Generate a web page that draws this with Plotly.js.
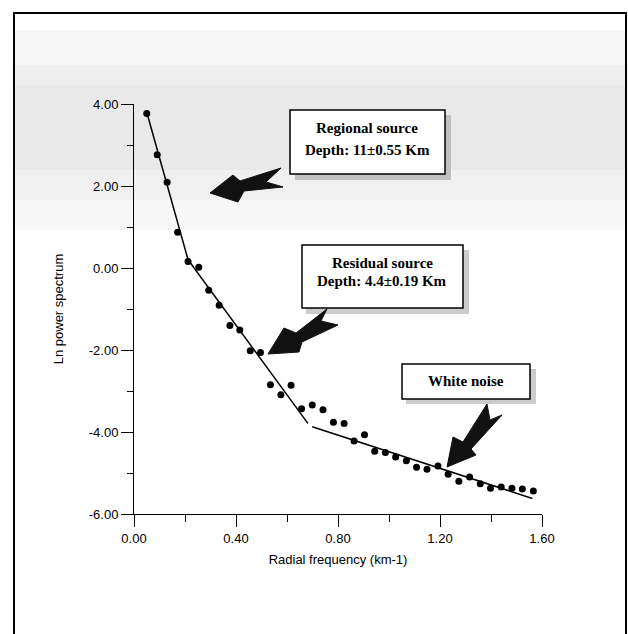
<!DOCTYPE html>
<html>
<head>
<meta charset="utf-8">
<script src="https://cdn.plot.ly/plotly-3.0.1.min.js"></script>
<style>html,body{margin:0;padding:0;background:#fff;}#chart{width:628px;height:634px;}</style>
</head>
<body>
<div id="chart"></div>
<script>
// Observed spectrum points
const freq = [0.050,0.091,0.130,0.171,0.212,0.254,0.293,0.334,0.376,0.415,0.456,0.496,0.535,0.576,0.616,0.657,0.699,0.741,0.782,0.824,0.863,0.904,0.944,0.986,1.026,1.068,1.108,1.149,1.192,1.232,1.274,1.316,1.358,1.398,1.440,1.482,1.523,1.566];
const lnPower = [3.77,2.76,2.09,0.87,0.16,0.02,-0.54,-0.91,-1.40,-1.51,-2.02,-2.06,-2.85,-3.09,-2.86,-3.43,-3.34,-3.46,-3.76,-3.79,-4.22,-4.07,-4.47,-4.50,-4.61,-4.70,-4.86,-4.91,-4.83,-5.03,-5.20,-5.10,-5.26,-5.37,-5.34,-5.37,-5.39,-5.44];
// Fitted line segments
const regionalX = [0.050, 0.212];
const regionalY = [3.80, 0.20];
const residualX = [0.212, 0.682];
const residualY = [0.20, -3.79];
const noiseX = [0.699, 1.562];
const noiseY = [-3.87, -5.62];
// Tick labels
const xTicks = [0, 0.4, 0.8, 1.2, 1.6];
const xTickText = ["0.00","0.40","0.80","1.20","1.60"];
const yTicks = [-6, -4, -2, 0, 2, 4];
const yTickText = ["-6.00","-4.00","-2.00","0.00","2.00","4.00"];

// pixel -> paper helpers (plot area: x 134..542, y 104..514)
const L = 134, R = 542, T = 104, B = 514;
const px = v => (v - L) / (R - L);
const py = v => (B - v) / (B - T);
function poly(pts){
  return pts.map((p,i)=> (i?'L':'M') + px(p[0]).toFixed(4) + ',' + py(p[1]).toFixed(4)).join(' ') + ' Z';
}
function rect(x0,y0,x1,y1,fill,line){
  return {type:'rect', xref:'paper', yref:'paper', x0:px(x0), x1:px(x1), y0:py(y0), y1:py(y1),
    fillcolor:fill, line:line||{width:0}, layer:'below'};
}

const lineStyle = {color:'#000', width:1.5};
const traces = [
  {x:regionalX, y:regionalY, mode:'lines', line:lineStyle, hoverinfo:'skip', showlegend:false},
  {x:residualX, y:residualY, mode:'lines', line:lineStyle, hoverinfo:'skip', showlegend:false},
  {x:noiseX, y:noiseY, mode:'lines', line:lineStyle, hoverinfo:'skip', showlegend:false},
  {x:freq, y:lnPower, mode:'markers', marker:{color:'#000', size:7}, showlegend:false}
];

const shapes = [
  // scanned gray halftone band
  rect(14, 30, 626, 65, '#f6f6f6'),
  rect(14, 65, 626, 85, '#efefef'),
  rect(14, 85, 626, 170, '#e9e9e9'),
  rect(14, 170, 626, 200, '#f0f0f0'),
  rect(14, 200, 626, 230, '#f7f7f7'),
  // frame
  {type:'rect', xref:'paper', yref:'paper', x0:px(14), x1:px(626), y0:py(13), y1:py(660),
   line:{color:'#000', width:2}, fillcolor:'rgba(0,0,0,0)', layer:'above'},
  // box shadows
  rect(295, 115, 451, 180, '#c0c0c0'),
  rect(306, 250, 469, 314, '#cccccc'),
  rect(406, 369, 536, 404, '#cccccc'),
  // boxes
  {type:'rect', xref:'paper', yref:'paper', x0:px(290), x1:px(445), y0:py(110), y1:py(174), fillcolor:'#fff', line:{color:'#000', width:1.5}, layer:'above'},
  {type:'rect', xref:'paper', yref:'paper', x0:px(302), x1:px(463), y0:py(245), y1:py(308), fillcolor:'#fff', line:{color:'#000', width:1.5}, layer:'above'},
  {type:'rect', xref:'paper', yref:'paper', x0:px(402), x1:px(530), y0:py(364), y1:py(399), fillcolor:'#fff', line:{color:'#000', width:1.5}, layer:'above'},
  // arrows
  {type:'path', xref:'paper', yref:'paper', layer:'above', fillcolor:'#111', line:{color:'#111', width:1},
   path: poly([[210,193],[233,175],[240,181],[281,168],[266,182],[283,187],[244,191],[238,202]])},
  {type:'path', xref:'paper', yref:'paper', layer:'above', fillcolor:'#111', line:{color:'#111', width:1},
   path: poly([[268,354],[284,328],[296,333],[327,309],[321,321],[338,325],[302,342],[299,352]])},
  {type:'path', xref:'paper', yref:'paper', layer:'above', fillcolor:'#111', line:{color:'#111', width:1},
   path: poly([[447,467],[453,437],[463,442],[487,404],[490,420],[502,415],[471,449],[476,455]])}
];

const serif = {family:'"Liberation Serif", "DejaVu Serif", serif', size:15, color:'#000'};
const annotations = [
  {xref:'paper', yref:'paper', x:px(367), y:py(128), text:'<b>Regional source</b>', showarrow:false, font:serif, xanchor:'center', yanchor:'middle'},
  {xref:'paper', yref:'paper', x:px(367), y:py(150), text:'<b>Depth: 11±0.55 Km</b>', showarrow:false, font:serif, xanchor:'center', yanchor:'middle'},
  {xref:'paper', yref:'paper', x:px(382), y:py(263), text:'<b>Residual source</b>', showarrow:false, font:serif, xanchor:'center', yanchor:'middle'},
  {xref:'paper', yref:'paper', x:px(382), y:py(281), text:'<b>Depth: 4.4±0.19 Km</b>', showarrow:false, font:serif, xanchor:'center', yanchor:'middle'},
  {xref:'paper', yref:'paper', x:px(466), y:py(381), text:'<b>White noise</b>', showarrow:false, font:serif, xanchor:'center', yanchor:'middle'}
];

const sans = {family:'"Liberation Sans", Arial, sans-serif', size:13, color:'#000'};
const layout = {
  width:628, height:634,
  margin:{l:L, r:628-R, t:T, b:634-B, pad:0},
  paper_bgcolor:'#fff', plot_bgcolor:'rgba(0,0,0,0)',
  font:sans,
  showlegend:false,
  xaxis:{
    range:[0,1.6], tickvals:xTicks, ticktext:xTickText,
    ticks:'outside', ticklen:12, tickwidth:1, tickcolor:'#000',
    minor:{dtick:0.2, tick0:0, ticks:'outside', ticklen:7, tickwidth:1, tickcolor:'#000'},
    showline:true, linecolor:'#000', linewidth:1, showgrid:false, zeroline:false,
    tickfont:sans, automargin:false,
    title:{text:'Radial frequency (km-1)', font:sans, standoff:10}
  },
  yaxis:{
    range:[-6,4], tickvals:yTicks, ticktext:yTickText,
    ticks:'outside', ticklen:12, tickwidth:1, tickcolor:'#000',
    minor:{dtick:1, tick0:0, ticks:'outside', ticklen:6, tickwidth:1, tickcolor:'#000'},
    showline:true, linecolor:'#000', linewidth:1, showgrid:false, zeroline:false,
    tickfont:sans, automargin:false,
    title:{text:'Ln power spectrum', font:sans, standoff:22}
  },
  shapes:shapes,
  annotations:annotations
};

Plotly.newPlot('chart', traces, layout, {staticPlot:true, displayModeBar:false});
</script>
</body>
</html>
